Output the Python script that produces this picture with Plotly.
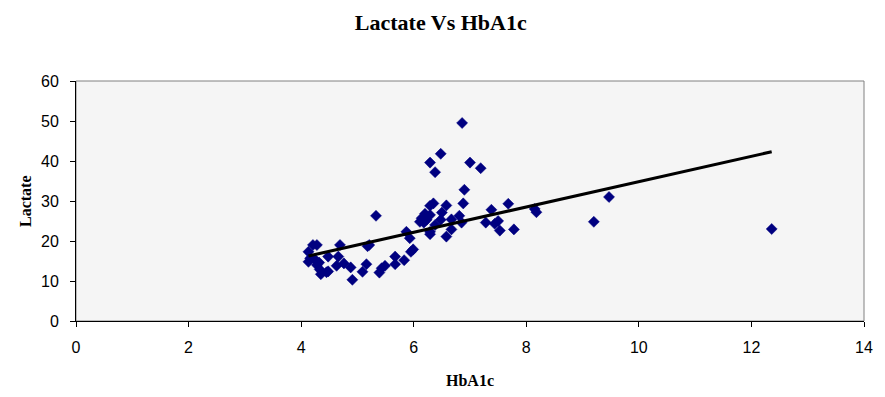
import numpy as np
import plotly.graph_objects as go

hba1c = [4.13, 4.16, 4.13, 4.21, 4.28, 4.25, 4.28, 4.32, 4.33, 4.35, 4.45, 4.48,
         4.48, 4.66, 4.69, 4.63, 4.76, 4.88, 4.91, 5.09, 5.16, 5.18, 5.21, 5.33,
         5.39, 5.43, 5.49, 5.67, 5.67, 5.83, 5.87, 5.93, 5.99, 5.95,
         6.11, 6.14, 6.18, 6.20, 6.23, 6.29, 6.29, 6.35, 6.29, 6.38, 6.29, 6.48,
         6.50, 6.58, 6.58, 6.67, 6.67, 6.81, 6.85, 6.88, 6.90, 6.86, 6.48, 6.29,
         7.00, 7.19, 6.38, 7.28, 7.38, 7.44, 7.50, 7.53, 7.68, 7.78, 8.15, 8.18,
         9.20, 9.47, 12.36]
lactate = [17.3, 15.7, 14.8, 19.0, 19.0, 15.3, 14.0, 14.6, 12.9, 11.7, 12.2, 12.4,
           16.1, 16.1, 19.0, 13.8, 14.4, 13.4, 10.3, 12.3, 14.2, 18.7, 19.0, 26.3,
           12.1, 13.2, 13.8, 16.1, 14.2, 15.2, 22.3, 20.7, 17.9, 17.3,
           24.8, 25.7, 24.6, 26.8, 25.3, 26.5, 28.8, 29.4, 21.7, 24.0, 22.3, 25.3,
           27.1, 28.9, 21.1, 25.4, 22.9, 26.3, 24.6, 29.4, 32.8, 49.5, 41.8, 39.6,
           39.6, 38.2, 37.2, 24.6, 27.8, 24.3, 25.0, 22.6, 29.3, 22.9, 28.0, 27.2,
           24.8, 31.0, 23.0]

x_ticks = [0, 2, 4, 6, 8, 10, 12, 14]
y_ticks = [0, 10, 20, 30, 40, 50, 60]

slope, intercept = np.polyfit(hba1c, lactate, 1)
trend_x = [min(hba1c), max(hba1c)]
trend_y = [slope * v + intercept for v in trend_x]

fig = go.Figure()
fig.add_trace(go.Scatter(
    x=hba1c, y=lactate, mode="markers",
    marker=dict(symbol="diamond", size=8.5, color="#000080",
                line=dict(color="#000080", width=0.5)),
    showlegend=False, hoverinfo="x+y"))
fig.add_trace(go.Scatter(
    x=trend_x, y=trend_y, mode="lines",
    line=dict(color="black", width=3), showlegend=False))

fig.add_shape(type="rect", xref="paper", yref="paper", x0=0, y0=0, x1=1, y1=1,
              line=dict(color="#808080", width=1), layer="below")

axis_title_font = dict(family="Liberation Serif", size=16, color="black")
fig.add_annotation(text="<b>Lactate</b>", xref="paper", yref="paper",
                   x=0, y=0.5, xshift=-51, textangle=-90, showarrow=False,
                   xanchor="center", yanchor="middle", font=axis_title_font)
fig.add_annotation(text="<b>HbA1c</b>", xref="paper", yref="paper",
                   x=0.5, y=0, yshift=-59, showarrow=False,
                   xanchor="center", yanchor="middle", font=axis_title_font)

tick_font = dict(family="Liberation Sans", size=16, color="black")
fig.update_layout(
    width=869, height=381,
    margin=dict(l=68, r=13, t=73, b=68),
    paper_bgcolor="white", plot_bgcolor="#f5f5f5",
    title=dict(text="<b>Lactate Vs HbA1c</b>", x=0.498, xanchor="center",
               y=0.963, yanchor="middle", yref="container",
               font=dict(family="Liberation Serif", size=22, color="black")),
    xaxis=dict(range=[0, 14], tickvals=x_ticks, showgrid=False, zeroline=False,
               showline=True, linecolor="black", linewidth=1, automargin=False,
               ticks="outside", ticklen=5, tickcolor="black",
               ticklabelstandoff=7, tickfont=tick_font),
    yaxis=dict(range=[0, 60], tickvals=y_ticks, showgrid=False, zeroline=False,
               showline=True, linecolor="black", linewidth=1, automargin=False,
               ticks="outside", ticklen=5, tickcolor="black",
               ticklabelstandoff=8, tickfont=tick_font),
)

fig.write_html("out.html")
